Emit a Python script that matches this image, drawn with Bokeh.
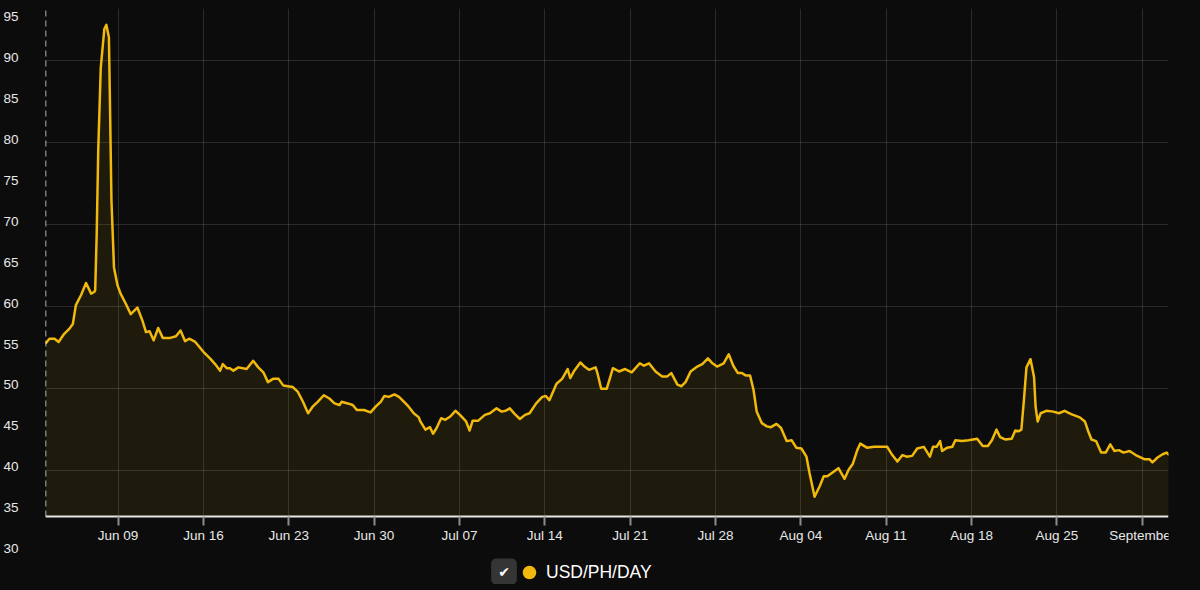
import pandas as pd
from bokeh.plotting import figure
from bokeh.models import (ColumnDataSource, Range1d, DatetimeAxis, LinearAxis, FixedTicker,
                          BoxAnnotation, Legend, LegendItem, Label, Grid, GlobalInlineStyleSheet)
from bokeh.embed import file_html
from bokeh.resources import INLINE

# ---------------- data ----------------
SERIES_NAME = "USD/PH/DAY"
SERIES_START = pd.Timestamp("2025-06-03 00:00")

# hours since SERIES_START
HOURS = [
    1, 9, 19, 27, 38, 48, 55, 61, 71, 81, 91, 97, 99, 102, 105, 110, 117, 121, 126, 128, 131, 136, 143,
    149, 159, 169, 182, 192, 199, 206, 214, 223, 232, 247, 258, 267, 276, 284, 296, 312, 325, 335, 345,
    350, 358, 364, 371, 381, 397, 410, 420, 430, 439, 449, 460, 469, 488, 498, 508, 518, 527, 537, 549,
    560, 570, 580, 584, 596, 606, 614, 628, 641, 651, 661, 668, 677, 688, 697, 707, 716, 726, 736,
    739, 749, 758, 764, 771, 780, 788, 798, 808, 817, 829, 836, 842, 853, 866, 876, 889, 899, 907, 915,
    925, 935, 945, 954, 967, 979, 986, 993, 1007, 1018, 1029, 1034, 1042, 1054, 1062, 1071, 1084, 1088,
    1095, 1106, 1118, 1130, 1142, 1155, 1171, 1179, 1189, 1202, 1215, 1225, 1233, 1245, 1253, 1261, 1271,
    1284, 1294, 1305, 1314, 1323, 1336, 1346, 1355, 1364, 1372, 1380, 1388, 1395, 1401, 1411, 1421, 1429,
    1440, 1449, 1460, 1470, 1479, 1489,
    1499, 1505, 1515, 1525, 1533, 1540, 1551, 1562, 1574, 1582, 1590, 1599, 1605, 1618, 1632, 1646, 1658,
    1668, 1678, 1688, 1696, 1707, 1717, 1730, 1735, 1742, 1748, 1755, 1762, 1766, 1776, 1786, 1792, 1805,
    1818, 1835, 1846, 1856, 1864, 1873, 1880, 1890, 1903, 1910, 1916, 1922, 1927, 1932, 1940, 1947, 1950,
    1954, 1960, 1971, 1985, 1996, 2007, 2020, 2037, 2047, 2053, 2060, 2069, 2079, 2088, 2097, 2105, 2114,
    2123, 2135, 2147, 2164, 2174, 2180, 2190, 2200, 2208, 2213,
]
USD_PH_DAY = [
    55.5, 56.1, 56.1, 55.7, 56.7, 57.3, 57.9, 60.2, 61.4, 62.9, 61.6, 61.8, 62.0, 68.9, 79.1, 89.2, 93.9,
    94.4, 92.9, 85.2, 73.0, 64.8, 62.6,
    61.6, 60.4, 59.1, 59.9, 58.3, 56.9, 57.0, 55.9, 57.4, 56.2, 56.2, 56.4, 57.1, 55.8, 56.1, 55.7, 54.5,
    53.7, 53.0, 52.2, 53.0, 52.5, 52.5, 52.2, 52.6, 52.4, 53.4, 52.6, 52.0, 50.8, 51.2, 51.2, 50.4, 50.2,
    49.6, 48.4, 47.0, 47.8, 48.4, 49.2, 48.8, 48.2, 48.0, 48.4, 48.2, 48.0, 47.4, 47.4, 47.1, 47.8, 48.4,
    49.1, 49.0, 49.3, 49.0, 48.4, 47.8, 47.0, 46.5,
    46.0, 45.0, 45.3, 44.5, 45.2, 46.4, 46.2, 46.6, 47.3, 46.8, 46.0, 44.9, 46.1, 46.1, 46.8, 47.0, 47.6,
    47.2, 47.3, 47.6, 46.9, 46.3, 46.8, 47.0, 48.2, 49.0, 49.1, 48.6, 50.6, 51.2, 52.4, 51.3, 52.2, 53.2,
    52.7, 52.3, 52.6, 51.8, 50.0, 50.0, 52.5, 52.1, 52.4, 52.0, 53.1, 52.8, 53.1, 52.1, 51.5, 51.5, 51.9,
    50.5, 50.3, 50.8, 52.1, 52.7, 53.0, 53.7, 53.1, 52.7, 53.1, 54.2, 52.8, 51.9, 51.9, 51.6, 51.6, 49.8,
    47.2, 45.8, 45.4, 45.3, 45.7, 45.2, 43.6, 43.7, 42.8, 42.7,
    41.7, 39.7, 36.8, 38.1, 39.3, 39.3, 39.8, 40.3, 39.0, 40.1, 40.8, 42.5, 43.3, 42.8, 42.9, 42.9, 42.9,
    41.9, 41.1, 41.9, 41.7, 41.8, 42.7, 42.9, 42.4, 41.7, 42.9, 42.9, 43.6, 42.4, 42.8, 42.9, 43.7, 43.6,
    43.7, 43.9, 43.0, 43.0, 43.7, 45.0, 44.1, 43.8, 43.9, 44.9, 44.8, 45.0, 48.6, 52.6, 53.6, 51.4, 47.8,
    46.0, 47.0, 47.3, 47.2, 47.0, 47.3, 46.9, 46.5, 46.0, 44.9, 43.8, 43.6, 42.2, 42.2, 43.2, 42.4, 42.5,
    42.2, 42.4, 41.9, 41.4, 41.4, 41.0, 41.6, 42.0, 42.2, 41.9,
]

TICK_DATES = ["2025-06-09", "2025-06-16", "2025-06-23", "2025-06-30", "2025-07-07", "2025-07-14",
              "2025-07-21", "2025-07-28", "2025-08-04", "2025-08-11", "2025-08-18", "2025-08-25",
              "2025-09-01"]
TICK_LABELS = ["Jun 09", "Jun 16", "Jun 23", "Jun 30", "Jul 07", "Jul 14", "Jul 21", "Jul 28",
               "Aug 04", "Aug 11", "Aug 18", "Aug 25", "September"]
Y_TICKS = [30, 35, 40, 45, 50, 55, 60, 65, 70, 75, 80, 85, 90, 95]
Y_GRID = [40, 50, 60, 70, 80, 90]

# ---------------- style / layout ----------------
BG = "#0c0c0c"
LINE = "#f0b90b"
TXT = "#e8e8e8"
FONT = "Liberation Sans"
AXIS_BASE = 34.4
X_START = SERIES_START + pd.Timedelta(hours=1.2)
X_END = SERIES_START + pd.Timedelta(hours=2211.6)
Y_START, Y_END = 26.1, 96.4
LABEL_SHIFT = 0.45

times = SERIES_START + pd.to_timedelta(HOURS, unit="h")
src = ColumnDataSource(dict(t=times, v=USD_PH_DAY, base=[AXIS_BASE] * len(HOURS)))

p = figure(width=1184, height=584, output_backend="svg", toolbar_location=None,
           x_axis_type="datetime", x_axis_location=None, y_axis_location=None,
           x_range=Range1d(X_START, X_END), y_range=Range1d(Y_START, Y_END),
           background_fill_color=BG, border_fill_color=BG, outline_line_color=None,
           min_border_left=38, min_border_right=16, min_border_top=8, min_border_bottom=0)
p.stylesheets = [GlobalInlineStyleSheet(css="body { background: #0c0c0c; }")]

tick_ms = [int(pd.Timestamp(d).value // 10**6) for d in TICK_DATES]

# grids
p.center = [r for r in p.center if not isinstance(r, Grid)]
p.add_layout(Grid(dimension=0, ticker=FixedTicker(ticks=tick_ms),
                  grid_line_color="#ffffff", grid_line_alpha=0.13))
p.add_layout(Grid(dimension=1, ticker=FixedTicker(ticks=Y_GRID),
                  grid_line_color="#ffffff", grid_line_alpha=0.13))

# series
p.varea(x="t", y1="base", y2="v", source=src, fill_color=LINE, fill_alpha=0.08)
p.line(x="t", y="v", source=src, line_color=LINE, line_width=2.5, line_join="round")
dot = p.scatter(x="t", y="v", source=src, size=14, fill_color=LINE, line_color=None, visible=False)

# hide grid below the baseline axis
p.add_layout(BoxAnnotation(top=AXIS_BASE, fill_color=BG, fill_alpha=1.0, line_color=None, level="glyph"))

# x axis at baseline
xaxis = DatetimeAxis(ticker=FixedTicker(ticks=tick_ms),
                     major_label_overrides=dict(zip(tick_ms, TICK_LABELS)),
                     fixed_location=AXIS_BASE,
                     axis_line_color="#e6e6e6", axis_line_width=2,
                     major_tick_line_color="#8c8c8c", major_tick_line_width=2,
                     major_tick_out=9, major_tick_in=0, minor_tick_line_color=None,
                     major_label_text_color=TXT, major_label_text_font=FONT,
                     major_label_text_font_size="13.5px", major_label_standoff=3)
p.add_layout(xaxis, "below")

# y labels axis
p.extra_y_ranges = {"labels": Range1d(Y_START - LABEL_SHIFT, Y_END - LABEL_SHIFT)}
yaxis = LinearAxis(y_range_name="labels", ticker=FixedTicker(ticks=Y_TICKS),
                   axis_line_color=None, major_tick_line_color=None, minor_tick_line_color=None,
                   major_label_text_color=TXT, major_label_text_font=FONT,
                   major_label_text_font_size="13.5px", major_label_standoff=21)
p.add_layout(yaxis, "left")

# dashed y axis line
dash_axis = LinearAxis(fixed_location=X_START.value / 1e6, bounds=(AXIS_BASE, Y_END),
                       ticker=FixedTicker(ticks=[]), axis_line_color="#e6e6e6",
                       axis_line_width=1.5, axis_line_dash="6 4",
                       major_tick_line_color=None, minor_tick_line_color=None)
p.add_layout(dash_axis, "left")

# legend (inside the extended frame, below the baseline axis)
legend = Legend(items=[LegendItem(label=SERIES_NAME, renderers=[dot])],
                location=(467, -5), orientation="horizontal",
                glyph_width=34, glyph_height=34, label_height=34, label_standoff=0,
                padding=0, margin=0, spacing=0,
                background_fill_alpha=0, border_line_alpha=0,
                label_text_font=FONT, label_text_font_size="17.5px", label_text_color="#ffffff",
                click_policy="none")
p.add_layout(legend)

p.add_layout(Label(x=458.5, y=13, x_units="screen", y_units="screen", text="✔",
                   text_align="center", text_baseline="middle", text_color="#ffffff",
                   text_font="DejaVu Sans", text_font_size="14px",
                   background_fill_color="#353535", border_radius=5, padding=(7, 5)))

open("out.html", "w").write(file_html(p, INLINE))
